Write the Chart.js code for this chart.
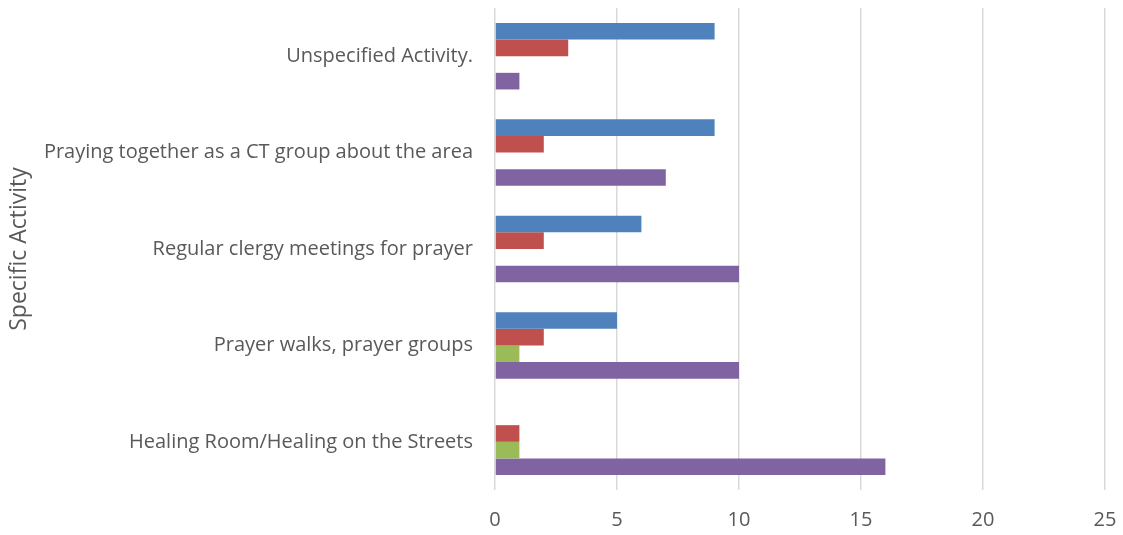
<!DOCTYPE html>
<html>
<head>
<meta charset="utf-8">
<script src="https://cdn.jsdelivr.net/npm/chart.js@4/dist/chart.umd.min.js"></script>
<style>
  html, body { margin: 0; padding: 0; background: #fff; }
  #wrap { width: 1123px; height: 535px; }
</style>
</head>
<body>
<div id="wrap"><canvas id="activityChart"></canvas></div>
<script>
// Categories, top to bottom
const categories = [
    'Unspecified Activity.',
    'Praying together as a CT group about the area',
    'Regular clergy meetings for prayer',
    'Prayer walks, prayer groups',
    'Healing Room/Healing on the Streets'
];

// Series values
const seriesBlue = [9, 9, 6, 5, 0];
const seriesRed = [3, 2, 2, 2, 1];
const seriesGreen = [0, 0, 0, 1, 1];
const seriesPurple = [1, 7, 10, 10, 16];

const xTicks = [0, 5, 10, 15, 20, 25];

const textColor = '#595959';

const ctx = document.getElementById('activityChart').getContext('2d');
new Chart(ctx, {
    type: 'bar',
    data: {
        labels: categories,
        datasets: [
            { label: 'Series 1', data: seriesBlue, backgroundColor: '#4F81BD' },
            { label: 'Series 2', data: seriesRed, backgroundColor: '#C0504D' },
            { label: 'Series 3', data: seriesGreen, backgroundColor: '#9BBB59' },
            { label: 'Series 4', data: seriesPurple, backgroundColor: '#8064A2' }
        ]
    },
    options: {
        indexAxis: 'y',
        responsive: true,
        maintainAspectRatio: false,
        animation: false,
        datasets: {
            bar: { categoryPercentage: 0.69, barPercentage: 1.0 }
        },
        layout: { padding: { top: 8, right: 18, bottom: 0, left: 0 } },
        plugins: {
            legend: { display: false },
            tooltip: { enabled: false }
        },
        scales: {
            x: {
                min: 0,
                max: 25,
                afterBuildTicks: scale => { scale.ticks = xTicks.map(v => ({ value: v })); },
                afterFit: scale => {
                    scale.height = 45;
                    scale.paddingLeft = 0;
                    scale.paddingRight = 0;
                },
                grid: { color: '#D9D9D9', lineWidth: 1.5, drawTicks: false },
                border: { display: false },
                ticks: {
                    color: textColor,
                    padding: 18,
                    font: { family: 'Open Sans', size: 20 }
                }
            },
            y: {
                afterFit: scale => {
                    scale.width = 495;
                    scale.paddingTop = 0;
                    scale.paddingBottom = 0;
                },
                grid: { display: false, drawTicks: false },
                border: { display: false },
                ticks: {
                    color: textColor,
                    padding: 22,
                    font: { family: 'Open Sans', size: 20 }
                },
                title: {
                    display: true,
                    text: 'Specific Activity',
                    color: textColor,
                    padding: { top: 6, bottom: 0 },
                    font: { family: 'Open Sans', size: 23 }
                }
            }
        }
    }
});
</script>
</body>
</html>
